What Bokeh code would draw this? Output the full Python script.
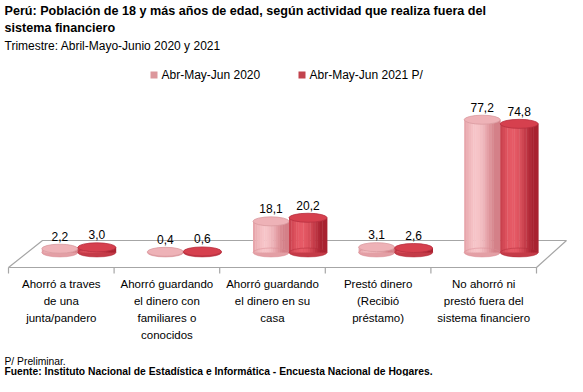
from bokeh.plotting import figure
from bokeh.models import Range1d
from bokeh.core.properties import value
from bokeh.embed import file_html
from bokeh.resources import INLINE
import math

# ---------------- data ----------------
categories = [
    ["Ahorró a traves", "de una", "junta/pandero"],
    ["Ahorró guardando", "el dinero con", "familiares o", "conocidos"],
    ["Ahorró guardando", "el dinero en su", "casa"],
    ["Prestó dinero", "(Recibió", "préstamo)"],
    ["No ahorró ni", "prestó fuera del", "sistema financiero"],
]
serie_2020 = [2.2, 0.4, 18.1, 3.1, 77.2]
serie_2021 = [3.0, 0.6, 20.2, 2.6, 74.8]
labels_2020 = ["2,2", "0,4", "18,1", "3,1", "77,2"]
labels_2021 = ["3,0", "0,6", "20,2", "2,6", "74,8"]
series_names = ["Abr-May-Jun 2020", "Abr-May-Jun 2021 P/"]
title_lines = ["Perú: Población de 18 y más años de edad, según actividad que realiza fuera del",
               "sistema financiero"]
subtitle = "Trimestre: Abril-Mayo-Junio 2020 y 2021"
note = "P/  Preliminar."
source = "Fuente: Instituto Nacional de Estadística e Informática - Encuesta Nacional de Hogares."

# ---------------- layout ----------------
W, H = 567, 376
FONT = "Liberation Sans"
K = 1.72         # px per unit
BASE = 252       # y of value 0
FRONT_Y, BACK_Y = 267, 240
FRONT_L, FRONT_R = 8, 536
DEPTH_L, DEPTH_R = 34, 30
SEG = (FRONT_R - FRONT_L) / len(categories)
SHIFT = 17

p = figure(width=W, height=H, output_backend="svg", toolbar_location=None,
           x_range=Range1d(0, W), y_range=Range1d(H, 0),
           min_border=0, outline_line_color=None)
p.axis.visible = False
p.grid.visible = False
p.background_fill_color = "white"
p.border_fill_color = "white"
p.extra_y_ranges = {"val": Range1d(-(H - BASE) / K, BASE / K)}

# floor
p.patch([FRONT_L, FRONT_R, FRONT_R + DEPTH_R, FRONT_L + DEPTH_L],
        [FRONT_Y, FRONT_Y, BACK_Y, BACK_Y],
        fill_color="white", line_color="#A6A6A6", line_width=1.2)
tick_x = [FRONT_L + SEG * i for i in range(len(categories) + 1)]
p.segment(x0=tick_x, y0=[FRONT_Y] * len(tick_x), x1=tick_x, y1=[FRONT_Y + 6] * len(tick_x),
          line_color="#A6A6A6", line_width=1.2)


def mix(c1, c2, s):
    return "#%02x%02x%02x" % tuple(int(round(a + (b - a) * s)) for a, b in zip(c1, c2))


styles = [
    dict(edge=(212, 128, 136), hi=(246, 196, 200), top=(238, 178, 183), topline="#D99AA0", w=36, dx=-18.5),
    dict(edge=(168, 34, 48), hi=(230, 90, 102), top=(214, 64, 78), topline="#B83040", w=38, dx=18.5),
]
NS = 16
for series, labels, st in ((serie_2020, labels_2020, styles[0]), (serie_2021, labels_2021, styles[1])):
    cx = [FRONT_L + SEG * (i + 0.5) + SHIFT + st["dx"] for i in range(len(series))]
    w = st["w"]
    # bottom ellipse
    p.ellipse(x=cx, y=[0] * len(cx), width=w, height=9, height_units="screen",
              fill_color=mix(st["edge"], st["hi"], 0.45), line_color=None, y_range_name="val")
    # shaded body strips
    for k in range(NS):
        t = (k + 0.5) / NS
        s = max(0.0, math.cos((t - 0.33) * math.pi * 0.95)) ** 1.3
        col = mix(st["edge"], st["hi"], s)
        left = [c - w / 2 + w * k / NS for c in cx]
        right = [c - w / 2 + w * (k + 1) / NS + 0.4 for c in cx]
        p.quad(left=left, right=right, bottom=[0] * len(cx), top=series,
               fill_color=col, line_color=None, y_range_name="val")
    p.ellipse(x=cx, y=[0] * len(cx), width=w, height=9, height_units="screen",
              fill_color=None, line_color=mix(st["edge"], st["hi"], 0.2), line_alpha=0.5,
              y_range_name="val")
    # top ellipse
    p.ellipse(x=cx, y=series, width=w, height=9, height_units="screen",
              fill_color=mix(st["top"], (255, 255, 255), 0.0), line_color=st["topline"],
              line_width=0.8, y_range_name="val")
    # value labels
    p.text(x=cx, y=series, text=labels, text_align="center", text_baseline="bottom",
           y_offset=-8, text_font=value(FONT), text_font_size="12px", text_color="#000000",
           y_range_name="val")

# category labels
cat_x, cat_y, cat_t = [], [], []
for i, lines in enumerate(categories):
    for j, ln in enumerate(lines):
        cat_x.append(FRONT_L + SEG * (i + 0.5))
        cat_y.append(283 + 17 * j)
        cat_t.append(ln)
p.text(x=cat_x, y=cat_y, text=cat_t, text_align="center", text_baseline="middle",
       text_font=value(FONT), text_font_size="11.5px", text_color="#000000")

# title & subtitle
p.text(x=[4, 4], y=[10, 27], text=title_lines, text_baseline="middle",
       text_font=value(FONT), text_font_size="12.6px", text_font_style="bold", text_color="#000000")
p.text(x=[4], y=[45], text=[subtitle], text_baseline="middle",
       text_font=value(FONT), text_font_size="12px", text_color="#000000")

# legend
leg_x = [150, 298]
leg_cols = ["#DC979C", "#C2434D"]
p.quad(left=leg_x, right=[x + 7 for x in leg_x], top=[71, 71], bottom=[78, 78],
       fill_color=leg_cols, line_color=None)
p.text(x=[x + 11 for x in leg_x], y=[74.5, 74.5], text=series_names, text_baseline="middle",
       text_font=value(FONT), text_font_size="12px", text_color="#000000")

# footer
p.text(x=[4], y=[361], text=[note], text_baseline="middle",
       text_font=value(FONT), text_font_size="10.3px", text_color="#000000")
p.text(x=[4], y=[371], text=[source], text_baseline="middle",
       text_font=value(FONT), text_font_size="10.3px", text_font_style="bold", text_color="#000000")

open("out.html", "w").write(file_html(p, INLINE))
